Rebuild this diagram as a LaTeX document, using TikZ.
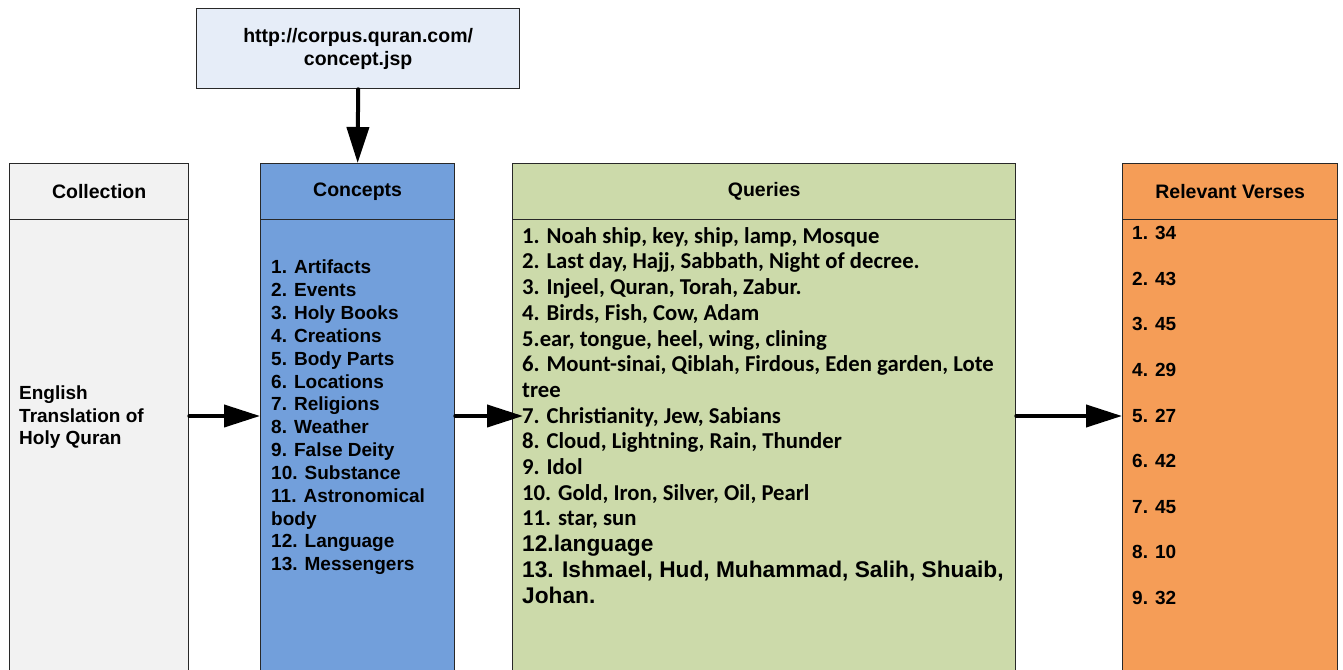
\documentclass[tikz,border=0pt]{standalone}
\usepackage{fontspec}
\setmainfont{Liberation Sans}
\newfontfamily\calfont{Carlito}
\usetikzlibrary{arrows.meta}
\definecolor{urlfill}{RGB}{230,237,248}
\definecolor{collfill}{RGB}{242,242,242}
\definecolor{concfill}{RGB}{114,159,219}
\definecolor{queryfill}{RGB}{204,218,170}
\definecolor{relfill}{RGB}{245,157,87}
\definecolor{edge}{RGB}{40,40,40}
\tikzset{
  box/.style={draw=edge, line width=1.3pt, inner sep=0pt, anchor=north west},
  head/.style={box, minimum height=56pt, font=\bfseries\fontsize{19.5}{22}\selectfont},
  body/.style={box, minimum height=460pt},
  ltext/.style={anchor=base west, inner sep=0pt, font=\bfseries\fontsize{19}{22}\selectfont},
  qtext/.style={anchor=base west, inner sep=0pt, font=\calfont\bfseries\fontsize{22.7}{26}\selectfont},
  qatext/.style={anchor=base west, inner sep=0pt, font=\bfseries\fontsize{22.7}{26}\selectfont},
  flow/.style={line width=4pt, line cap=round, -{Triangle[length=36pt,width=22pt]}}
}
\begin{document}
\begin{tikzpicture}[x=1pt,y=1pt]
\useasboundingbox (0,0) rectangle (1343,669);
% URL box
\node[box, fill=urlfill, minimum width=323pt, minimum height=80pt, align=center,
      font=\bfseries\fontsize{19.5}{23}\selectfont] (url) at (196,661)
      {http://corpus.quran.com/\\concept.jsp};
% Collection
\node[body, fill=collfill, minimum width=179pt] (collb) at (9,450) {};
\node[head, fill=collfill, minimum width=179pt] (collh) at (9,506) {Collection};
% Concepts
\node[body, fill=concfill, minimum width=194pt] (concb) at (260,450) {};
\node[head, fill=concfill, minimum width=194pt] (conch) at (260,506) {Concepts};
% Queries
\node[body, fill=queryfill, minimum width=503pt] (qb) at (512,450) {};
\node[head, fill=queryfill, minimum width=503pt] (qh) at (512,506) {Queries};
% Relevant verses
\node[body, fill=relfill, minimum width=215pt] (rb) at (1122,450) {};
\node[head, fill=relfill, minimum width=215pt] (rh) at (1122,506) {Relevant Verses};
% Collection text
\foreach \t [count=\i] in {English, Translation of, Holy Quran}
  \node[ltext] (e\i) at (19, {669-393-6.8-(\i-1)*22.5}) {\t};
% Concepts text
\foreach \t [count=\i] in {{1. Artifacts},{2. Events},{3. Holy Books},{4. Creations},{5. Body Parts},{6. Locations},{7. Religions},{8. Weather},{9. False Deity},{10. Substance},{11. Astronomical},{body},{12. Language},{13. Messengers}}
  \node[ltext] (c\i) at (271, {669-267-6.8-(\i-1)*22.85}) {\t};
% Queries text
\foreach \t [count=\i] in {{1. Noah ship, key, ship, lamp, Mosque},{2. Last day, Hajj, Sabbath, Night of decree.},{3. Injeel, Quran, Torah, Zabur.},{4. Birds, Fish, Cow, Adam},{5.ear, tongue, heel, wing, clining},{6. Mount-sinai, Qiblah, Firdous, Eden garden, Lote},{tree},{7. Christianity, Jew, Sabians},{8. Cloud, Lightning, Rain, Thunder},{9. Idol},{10. Gold, Iron, Silver, Oil, Pearl},{11. star, sun}}
  \node[qtext] (q\i) at (522, {669-236-7.3-(\i-1)*25.7}) {\t};
\foreach \t [count=\i from 13] in {{12.language},{13. Ishmael, Hud, Muhammad, Salih, Shuaib,},{Johan.}}
  \node[qatext] (q\i) at (522, {669-236-7.5-(\i-1)*25.7}) {\t};
% Relevant text
\foreach \t [count=\i] in {{1. 34},{2. 43},{3. 45},{4. 29},{5. 27},{6. 42},{7. 45},{8. 10},{9. 32}}
  \node[ltext] (r\i) at (1132, {669-233-6.8-(\i-1)*45.6}) {\t};
% Arrows
\draw[flow] (url.south) -- (conch.north);
\draw[flow] (collb.east |- 0,253) -- (concb.west |- 0,253);
\draw[flow, shorten >=-11pt] (concb.east |- 0,253) -- (qb.west |- 0,253);
\draw[flow] (qb.east |- 0,253) -- (rb.west |- 0,253);
\end{tikzpicture}
\end{document}
